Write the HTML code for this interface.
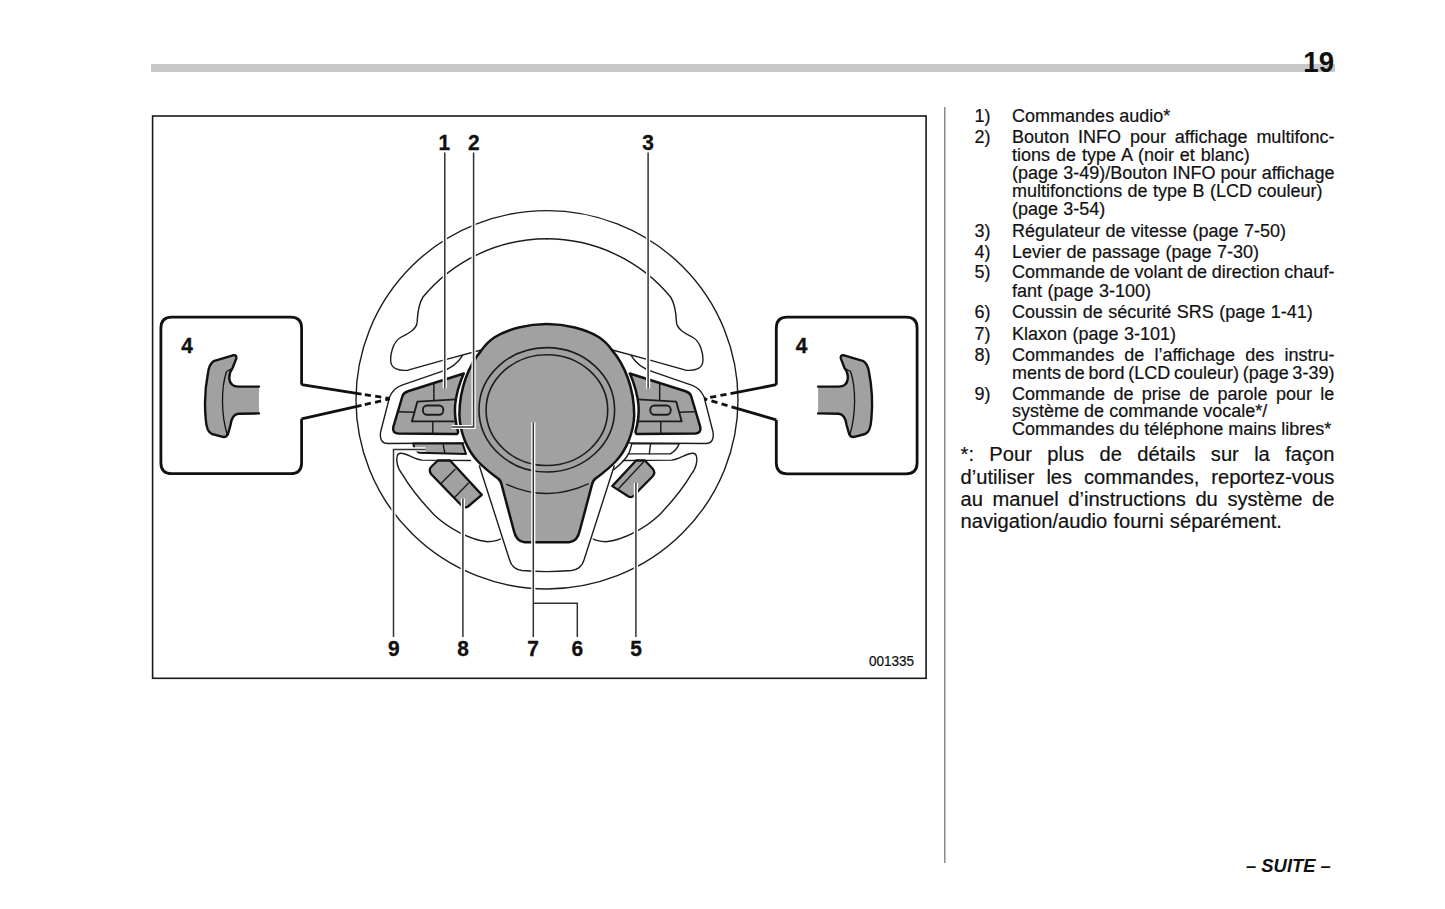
<!DOCTYPE html>
<html><head><meta charset="utf-8">
<style>
html,body{margin:0;padding:0;background:#fff;}
#pg{position:relative;width:1445px;height:909px;overflow:hidden;background:#fff;font-family:"Liberation Sans",sans-serif;color:#111;}
.t18,.t20{position:absolute;white-space:pre;-webkit-text-stroke:0.2px #111;}
.t18{font-size:18px;line-height:18px;}
.t20{font-size:20.15px;line-height:20.15px;}
#bar{position:absolute;left:151px;top:64.3px;width:1183.5px;height:7.6px;background:#c8c8c8;}
#pn{position:absolute;left:1334px;top:47px;font-size:30px;line-height:30px;font-weight:bold;transform:translateX(-100%) scaleX(0.92);transform-origin:100% 0;white-space:pre;}
#suite{position:absolute;left:1246px;top:856.8px;font-size:18.4px;line-height:18.4px;font-weight:bold;font-style:italic;white-space:pre;}
</style></head><body><div id="pg">
<div id="bar"></div>
<div id="pn">19</div>
<svg width="1445" height="909" viewBox="0 0 1445 909" style="position:absolute;left:0;top:0">
<rect x="152.6" y="116" width="773.5" height="562.3" fill="none" stroke="#1a1a1a" stroke-width="1.6"/>
<line x1="944.8" y1="107" x2="944.8" y2="863" stroke="#777" stroke-width="1.3"/>
<g fill="none" stroke="#1c1c1c" stroke-width="1.4" stroke-linejoin="round" stroke-linecap="round">
<ellipse cx="547" cy="399.8" rx="191" ry="189.2"/>
<path d="M547,238.8 A161,161 0 0 0 423,297 C418.5,304 417.5,314 417.1,322.4 C416.6,328.5 411,332 400.5,337.5 C393,342 390,354 390.8,362 C391.5,368.5 399,371.2 408,370.2 L442.7,360.4 L484,349.2"/><path d="M 546.6,238.8 A 161,161 0 0 1 670.6,297 C 675.1,304.0 676.1,314.0 676.5,322.4 C 677.0,328.5 682.6,332.0 693.1,337.5 C 700.6,342.0 703.6,354.0 702.8,362.0 C 702.1,368.5 694.6,371.2 685.6,370.2 L 650.9,360.4 L 609.6,349.2"/>
<path d="M462.5,355.4 Q456,367 440.5,371.9 L402,385.1 Q393.5,388 389.6,396.8 L380.6,432 Q379,443.3 388,443.5 L464,443"/><path d="M 631.1,355.4 Q 637.6,367.0 653.1,371.9 L 691.6,385.1 Q 700.1,388.0 704.0,396.8 L 713.0,432.0 Q 714.6,443.3 705.6,443.5 L 629.6,443.0"/>
<path d="M470.4,460.5 L422,460.1 C414,459.6 407,453 400.5,453.3 C395,453.8 395.5,466 402.6,474.6 C408,484 421,501 434.3,515 C448,528 470,540 487.8,541.7 Q496,541.5 500.4,539"/><path d="M 623.2,460.5 L 671.6,460.1 C 679.6,459.6 686.6,453.0 693.1,453.3 C 698.6,453.8 698.1,466.0 691.0,474.6 C 685.6,484.0 672.6,501.0 659.3,515.0 C 645.6,528.0 623.6,540.0 605.8,541.7 Q 597.6,541.5 593.2,539.0"/>
<path d="M479.4,466 L509.6,560 Q512,569 522,570.5 Q546.8,572.8 571.6,570.5 Q581.6,569 584,560 L614.2,466"/>
<path d="M631.7,443.8 L679.2,443.8 Q677,450 670.4,453.9 L628.5,453.9"/>
<line x1="650.6" y1="443.8" x2="649.3" y2="453.9"/>
<path d="M631.7,443.8 C630.5,449 629.5,452 628.5,453.9 C626.5,458 622,463 613.8,469.8"/>
</g>
<path d="M546.8,324 C565.6,324 585.6,329 599,337.2 C604.6,341 608.6,345 612.2,350.4 C624.6,365 634.1,388 634.2,414.8 C633.8,432 626.6,450 615.6,461.5 C608.6,469 601.6,474 595.2,478.9 C593.6,480 592.6,482 591.9,484.9 L580,529.8 Q577.6,541.5 569.1,542.3 L524.5,542.3 Q516,541.5 513.6,529.8 L501.7,484.9 C501,482 500,480 498.4,478.9 C492,474 485,469 478,461.5 C467,450 459.8,432 459.4,414.8 C459.5,388 469,365 481.4,350.4 C485,345 489,341 494.6,337.2 C508,329 528,324 546.8,324 Z" fill="#a1a1a1" stroke="#121212" stroke-width="2.5" stroke-linejoin="round"/>
<g fill="none" stroke="#1c1c1c" stroke-width="1.6">
<ellipse cx="546.8" cy="409.8" rx="67.8" ry="62.2"/>
<ellipse cx="546.9" cy="410.1" rx="60.8" ry="55.4"/>
<path d="M506.3,484.2 Q547,503 588.8,483.6" stroke-width="1.4"/>
</g>
<g id="clusterL">
<path d="M463.9,373.5 L408,391.2 Q403.5,392.8 402.5,396 L393.3,427 Q392.3,433.3 398,433.5 L457,434 Q458.6,433 457.8,430.5 Q454.1,417 455.1,405 Q456.6,390 463.6,373.7 Z" fill="#a1a1a1" stroke="#121212" stroke-width="2.5" stroke-linejoin="round"/>
<g fill="none" stroke="#1c1c1c" stroke-width="1.5">
<line x1="433.9" y1="383.5" x2="433.9" y2="400"/>
<line x1="399" y1="411.8" x2="414" y2="412.3"/>
<path d="M456,399.4 L417.4,401.6 L411.9,421.4 L457,421.4" stroke-width="1.9" stroke-linejoin="round"/>
<rect x="422.9" y="405.5" width="20.4" height="9.3" rx="4.2" stroke-width="1.9"/>
<line x1="432.8" y1="421.4" x2="432.8" y2="433.5"/>
</g>
</g>
<use href="#clusterL" transform="translate(1093.6,0) scale(-1,1)"/>
<path d="M413.2,443.4 L462.5,443.4 L466,453.9 L419.3,452.8 Q414.5,450 414,446.4 Z" fill="#a1a1a1" stroke="#121212" stroke-width="2" stroke-linejoin="round"/>
<line x1="443.1" y1="443.8" x2="444.9" y2="453.5" stroke="#1c1c1c" stroke-width="1.4"/>
<path d="M437.8,460.5 L450.1,460.5 L481.8,494.9 L468,506.5 Q465,508.5 462,506 L431.5,474.5 Q428,470 431.5,466.5 Z" fill="#a1a1a1" stroke="#121212" stroke-width="2.3" stroke-linejoin="round"/>
<g stroke="#1c1c1c" stroke-width="1.4">
<line x1="440.5" y1="483.9" x2="455.4" y2="468.9"/>
<line x1="454.5" y1="497.5" x2="468.6" y2="483"/>
</g>
<path d="M636.1,460.5 L644.9,460.5 L652.5,468.5 Q656,472.5 652.5,476.5 L638.7,490.5 L634,495.5 Q631.5,498 628.5,496.5 L612.3,486.1 Z" fill="#a1a1a1" stroke="#121212" stroke-width="2.3" stroke-linejoin="round"/>
<line x1="618.5" y1="488.7" x2="644" y2="461.4" stroke="#1c1c1c" stroke-width="1.4"/>
<g fill="none">
<g stroke="#fff" stroke-width="4.2"><path d="M444.8,152.4 V388.3"/><path d="M473.6,152.4 V427 H451.5"/><path d="M648.1,152.4 V388.5"/><path d="M393.5,637 V449.4 H425.5"/><path d="M462.9,637 V498.4"/><path d="M533.3,637 V422.3"/><path d="M533.3,603.3 H577.3 V637"/><path d="M635.9,637 V483"/></g>
<g stroke="#333" stroke-width="1.5"><path d="M444.8,152.4 V388.3"/><path d="M473.6,152.4 V427 H451.5"/><path d="M648.1,152.4 V388.5"/><path d="M393.5,637 V449.4 H425.5"/><path d="M462.9,637 V498.4"/><path d="M533.3,637 V422.3"/><path d="M533.3,603.3 H577.3 V637"/><path d="M635.9,637 V483"/></g>
</g>
<g fill="none" stroke="#111" stroke-width="2.8" stroke-linejoin="round">
<path d="M301.6,384.7 V328.2 Q301.6,317.2 290.6,317.2 H171.9 Q160.9,317.2 160.9,328.2 V462.7 Q160.9,473.7 171.9,473.7 H290.6 Q301.6,473.7 301.6,462.7 V418.8"/>
<path d="M301.6,384.7 L361.5,394.1"/>
<path d="M364.8,394.6 L389.6,398.5" stroke-dasharray="6.2,4.3"/>
<path d="M301.6,418.8 L361.5,405.3"/>
<path d="M364.8,404.6 L389.6,399.0" stroke-dasharray="6.2,4.3"/>
<path d="M776.3,384.7 V328.2 Q776.3,317.2 787.3,317.2 H906.1 Q917.1,317.2 917.1,328.2 V462.8 Q917.1,473.8 906.1,473.8 H787.3 Q776.3,473.8 776.3,462.8 V419.9"/>
<path d="M776.3,384.7 L730.5,393.6"/>
<path d="M726.5,394.3 L704.4,398.6" stroke-dasharray="6.2,4.3"/>
<path d="M776.3,419.9 L731.5,406.8"/>
<path d="M727.5,405.6 L704.4,398.9" stroke-dasharray="6.2,4.3"/>
</g>
<g id="paddleL">
<path d="M213.6,361.2 L233,355.3 Q237.2,354.6 236.2,358.6 L232.6,368 Q229,372.5 229.3,378.7 Q230,386.6 238.4,386.6 L259,386.6 L259,413.4 L238.4,413.8 Q232,414.5 230.5,425 L228,434 Q226.5,437.5 222.7,436.8 L212,434 Q206.5,432 205.7,418.7 Q203.5,395 208.2,371.5 Q209.5,364 213.6,361.2 Z" fill="#a1a1a1"/>
<path d="M259,386.6 L238.4,386.6 Q230,386.6 229.3,378.7 Q229,372.5 232.6,368 L236.2,358.6 Q237.2,354.6 233,355.3 L213.6,361.2 Q209.5,364 208.2,371.5 Q203.5,395 205.7,418.7 Q206.5,432 212,434 L222.7,436.8 Q226.5,437.5 228,434 L230.5,425 Q232,414.5 238.4,413.8 L259,413.4" fill="none" stroke="#111" stroke-width="2.4" stroke-linejoin="round" stroke-linecap="round"/>
<path d="M226.5,371.5 C221,388 221,415 227.5,435.5 M226.5,371.5 L232.5,368.3" fill="none" stroke="#111" stroke-width="1.3"/>
</g>
<use href="#paddleL" transform="translate(1077.1,0) scale(-1,1)"/>
<g font-family="Liberation Sans" font-weight="bold" font-size="22" fill="#111" text-anchor="middle" stroke="#111" stroke-width="0.35">
<text transform="translate(444.3,149.9) scale(0.95,1)">1</text><text transform="translate(473.8,149.9) scale(0.95,1)">2</text><text transform="translate(648.1,149.9) scale(0.95,1)">3</text><text transform="translate(393.7,655.7) scale(0.95,1)">9</text><text transform="translate(463.0,655.7) scale(0.95,1)">8</text><text transform="translate(533.0,655.7) scale(0.95,1)">7</text><text transform="translate(577.2,655.7) scale(0.95,1)">6</text><text transform="translate(636.0,655.7) scale(0.95,1)">5</text><text transform="translate(187.1,352.8) scale(0.95,1)">4</text><text transform="translate(801.5,352.8) scale(0.95,1)">4</text>
</g>
<text transform="translate(868.9,666) scale(0.965,1)" font-family="Liberation Sans" font-size="14" fill="#111" stroke="#111" stroke-width="0.25">001335</text>
</svg>
<div class="t18" style="left:974.4px;top:107.1px">1)</div>
<div class="t18" style="left:1012.1px;top:107.1px;">Commandes audio*</div>
<div class="t18" style="left:974.4px;top:128.0px">2)</div>
<div class="t18" style="left:1012.1px;top:128.0px;word-spacing:3.87px;">Bouton INFO pour affichage multifonc-</div>
<div class="t18" style="left:1012.1px;top:146.1px;word-spacing:0.93px;">tions de type A (noir et blanc)</div>
<div class="t18" style="left:1012.1px;top:163.6px;word-spacing:0.11px;">(page 3-49)/Bouton INFO pour affichage</div>
<div class="t18" style="left:1012.1px;top:181.7px;word-spacing:0.46px;">multifonctions de type B (LCD couleur)</div>
<div class="t18" style="left:1012.1px;top:200.0px;">(page 3-54)</div>
<div class="t18" style="left:974.4px;top:221.8px">3)</div>
<div class="t18" style="left:1012.1px;top:221.8px;word-spacing:0.42px;">Régulateur de vitesse (page 7-50)</div>
<div class="t18" style="left:974.4px;top:242.9px">4)</div>
<div class="t18" style="left:1012.1px;top:242.9px;word-spacing:0.42px;">Levier de passage (page 7-30)</div>
<div class="t18" style="left:974.4px;top:263.2px">5)</div>
<div class="t18" style="left:1012.1px;top:263.2px;word-spacing:-0.38px;">Commande de volant de direction chauf-</div>
<div class="t18" style="left:1012.1px;top:281.6px;word-spacing:0.4px;">fant (page 3-100)</div>
<div class="t18" style="left:974.4px;top:302.6px">6)</div>
<div class="t18" style="left:1012.1px;top:302.6px;word-spacing:0.5px;">Coussin de sécurité SRS (page 1-41)</div>
<div class="t18" style="left:974.4px;top:324.9px">7)</div>
<div class="t18" style="left:1012.1px;top:324.9px;word-spacing:0.4px;">Klaxon (page 3-101)</div>
<div class="t18" style="left:974.4px;top:345.7px">8)</div>
<div class="t18" style="left:1012.1px;top:345.7px;word-spacing:5.12px;">Commandes de l’affichage des instru-</div>
<div class="t18" style="left:1012.1px;top:363.5px;word-spacing:-1.31px;">ments de bord (LCD couleur) (page 3-39)</div>
<div class="t18" style="left:974.4px;top:384.5px">9)</div>
<div class="t18" style="left:1012.1px;top:384.5px;word-spacing:3.35px;">Commande de prise de parole pour le</div>
<div class="t18" style="left:1012.1px;top:402.3px;">système de commande vocale*/</div>
<div class="t18" style="left:1012.1px;top:420.4px;">Commandes du téléphone mains libres*</div>
<div class="t20" style="left:960.6px;top:444.4px;word-spacing:9.74px;">*: Pour plus de détails sur la façon</div>
<div class="t20" style="left:960.6px;top:466.7px;word-spacing:6.32px;">d’utiliser les commandes, reportez-vous</div>
<div class="t20" style="left:960.6px;top:488.8px;word-spacing:4.00px;">au manuel d’instructions du système de</div>
<div class="t20" style="left:960.6px;top:511.4px;word-spacing:0.5px;">navigation/audio fourni séparément.</div>
<div id="suite">– SUITE –</div>
</div></body></html>
